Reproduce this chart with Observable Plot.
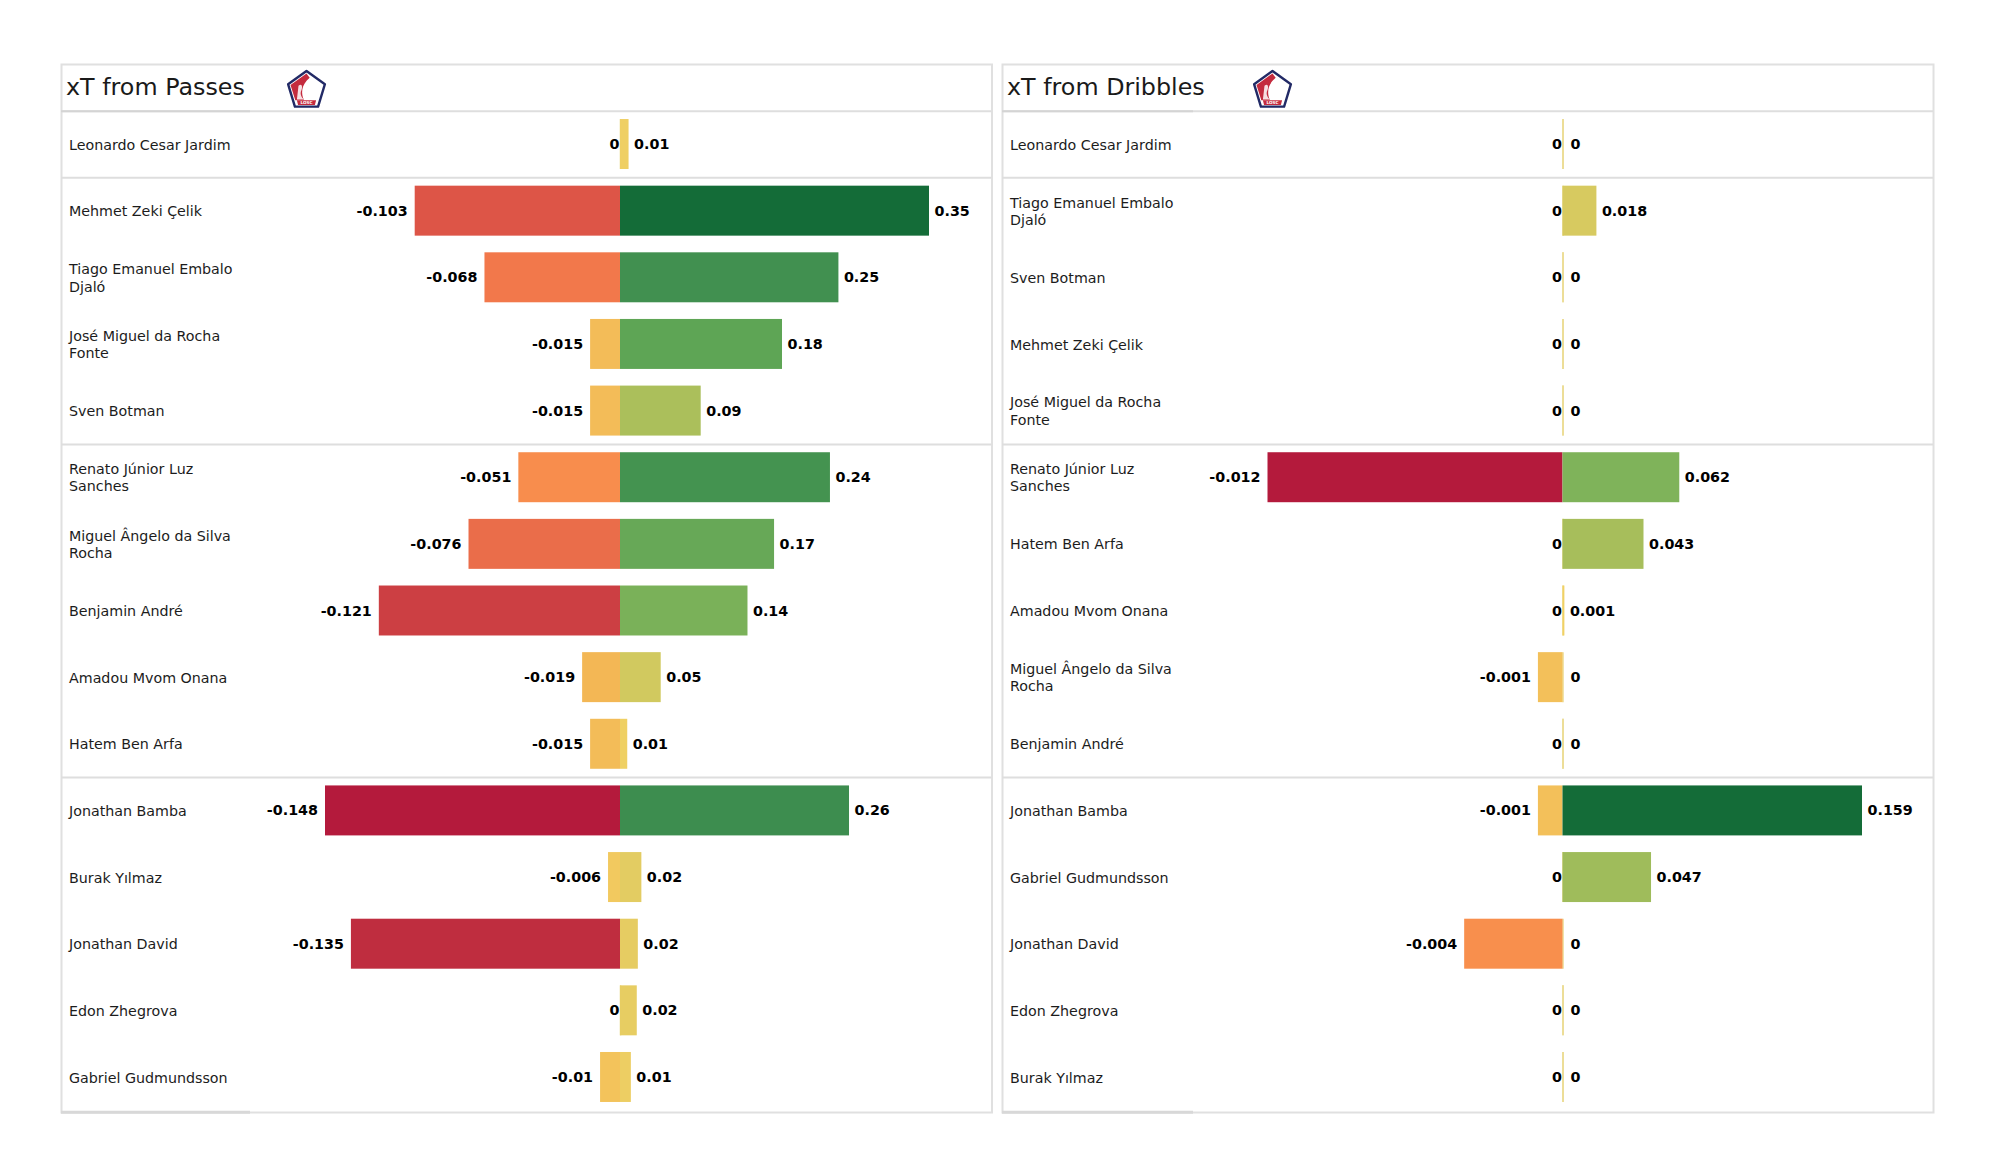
<!DOCTYPE html>
<html>
<head>
<meta charset="utf-8">
<script src="https://cdn.jsdelivr.net/npm/d3@7"></script>
<script src="https://cdn.jsdelivr.net/npm/@observablehq/plot@0.6"></script>
<style>
html,body{margin:0;padding:0;background:#fff;width:2000px;height:1175px;overflow:hidden}
#chart{position:relative;width:2000px;height:1175px}
#chart svg{position:absolute;top:0;overflow:visible}
</style>
</head>
<body>
<div id="chart"></div>
<script>
const passNames = ["Leonardo Cesar Jardim","Mehmet Zeki Çelik","Tiago Emanuel Embalo\nDjaló","José Miguel da Rocha\nFonte","Sven Botman","Renato Júnior Luz\nSanches","Miguel Ângelo da Silva\nRocha","Benjamin André","Amadou Mvom Onana","Hatem Ben Arfa","Jonathan Bamba","Burak Yılmaz","Jonathan David","Edon Zhegrova","Gabriel Gudmundsson"];
const passNeg = [0,-0.103,-0.068,-0.015,-0.015,-0.051,-0.076,-0.121,-0.019,-0.015,-0.148,-0.006,-0.135,0,-0.01];
const passPos = [0.0097,0.35,0.2474,0.1835,0.0914,0.2378,0.1745,0.1444,0.0461,0.0082,0.2594,0.0242,0.0202,0.019,0.0123];
const passGroupStarts = ["Leonardo Cesar Jardim","Mehmet Zeki Çelik","Renato Júnior Luz\nSanches","Jonathan Bamba"];

const dribNames = ["Leonardo Cesar Jardim","Tiago Emanuel Embalo\nDjaló","Sven Botman","Mehmet Zeki Çelik","José Miguel da Rocha\nFonte","Renato Júnior Luz\nSanches","Hatem Ben Arfa","Amadou Mvom Onana","Miguel Ângelo da Silva\nRocha","Benjamin André","Jonathan Bamba","Gabriel Gudmundsson","Jonathan David","Edon Zhegrova","Burak Yılmaz"];
const dribNeg = [0,0,0,0,0,-0.012,0,0,-0.001,0,-0.001,0,-0.004,0,0];
const dribPos = [0,0.018,0,0,0,0.062,0.043,0.001,0,0,0.159,0.047,0,0,0];
const dribGroupStarts = ["Leonardo Cesar Jardim","Tiago Emanuel Embalo\nDjaló","Renato Júnior Luz\nSanches","Jonathan Bamba"];

const negStops = [-1,-0.91,-0.82,-0.7,-0.51,-0.46,-0.34,-0.128,-0.1,-0.07,-0.04];
const negColors = ["#b41a3c","#bf2d3f","#cc3f43","#dd5447","#ea6d4a","#f2784b","#f88e4d","#f3b755","#f3bc58","#f3c35b","#f2c95f"];
const midColor = "#f1d264";
const posStops = [0.03,0.06,0.13,0.26,0.39,0.5,0.52,0.68,0.74,1];
const posColors = ["#efcf63","#e5cc62","#d2c95f","#abbf5b","#7fb35a","#67a857","#5fa555","#449350","#3d8d4f","#146c38"];

const logoSvg = `<svg xmlns="http://www.w3.org/2000/svg" viewBox="0 0 100 100">
<path d="M50 5 L96 38 L79 94 L21 94 L4 38 Z" fill="#fff" stroke="#222a66" stroke-width="6" stroke-linejoin="round"/>
<path d="M50 11 L10 40 L22 78 L44 78 C36 62 36 40 58 22 Z" fill="#c42b3e"/>
<path d="M62 20 L90 40 L84 50 L70 50 L66 66 C64 58 66 46 70 40 C66 34 64 28 62 20 Z" fill="#fff"/>
<path d="M30 42 C38 34 42 44 36 56 C34 64 38 72 44 76 L26 76 Z" fill="#fff" opacity="0.85"/>
<path d="M26 78 H74 L71 90 H29 Z" fill="#c42b3e"/>
<text x="50" y="88" font-size="10.500" font-weight="700" text-anchor="middle" fill="#fff" font-family="DejaVu Sans">LOSC</text>
</svg>`;
const logoSrc = "data:image/svg+xml;utf8," + encodeURIComponent(logoSvg);

function panel({title, names, neg, pos, groupStarts, xDomain, xRange, mLeft, mRight, width, logoDx, underlineStart, underlineEnd, posDigits}) {
  const rows = names.flatMap((name, i) => [
    {name, side: "neg", value: neg[i]},
    {name, side: "pos", value: pos[i]}
  ]);
  const maxNeg = -d3.min(neg), maxPos = d3.max(pos);
  const fmt = d => String(+d.value.toFixed(d.side === "neg" ? 3 : posDigits));
  const toData = d3.scaleLinear().domain(xRange).range(xDomain);
  const firstName = names[0], lastName = names[names.length - 1];
  const valueText = (filter, textAnchor, dx) => Plot.text(rows.filter(filter), {
    x: "value", y: "name", text: fmt, fontWeight: 700, fontSize: 14.3, fill: "#000", textAnchor, dx
  });
  return Plot.plot({
    width, height: 1175,
    marginLeft: mLeft, marginRight: mRight, marginTop: 64, marginBottom: 63,
    style: {fontFamily: "'DejaVu Sans', sans-serif", background: "transparent", overflow: "visible"},
    x: {type: "linear", axis: null, domain: xDomain, range: xRange},
    y: {axis: null, type: "band", domain: names, range: [110.7, 1110.3], paddingInner: 0.25, paddingOuter: 0.125, round: false},
    color: {
      type: "linear", interpolate: "rgb",
      domain: [...negStops.map(t => t * maxNeg), 0, ...posStops.map(t => t * maxPos)],
      range: [...negColors, midColor, ...posColors]
    },
    marks: [
      Plot.frame({stroke: "#e0e0e0", strokeWidth: 2}),
      Plot.ruleY(groupStarts, {y: d => d, dy: -33.3, stroke: "#dedede", strokeWidth: 2}),
      Plot.ruleY([firstName], {y: d => d, dy: -33.3, x1: toData(underlineStart), x2: toData(underlineEnd), stroke: "#d4d4d4", strokeWidth: 2}),
      Plot.ruleY([lastName], {y: d => d, dy: 34.8, x1: toData(underlineStart), x2: toData(underlineEnd), stroke: "#d8d8d8", strokeWidth: 3}),
      Plot.tickX(rows.filter(d => d.value === 0), {x: "value", y: "name", stroke: "#ecdc94", strokeWidth: 1.6}),
      Plot.barX(rows.filter(d => d.value !== 0), {x1: () => 0, x2: "value", y: "name", fill: "value"}),
      Plot.text(names, {y: d => d, frameAnchor: "left", dx: 7.5, dy: -0.5, textAnchor: "start", text: d => d, fontSize: 14.25, lineHeight: 1.22, fill: "#1c1c1c"}),
      valueText(d => d.side === "neg" && d.value !== 0, "end", -7.5),
      valueText(d => d.side === "neg" && d.value === 0, "end", -1),
      valueText(d => d.side === "pos" && d.value !== 0, "start", 5),
      valueText(d => d.side === "pos" && d.value === 0, "start", 7.5),
      Plot.text([title], {frameAnchor: "top-left", dx: 4.5, dy: 22.5, lineAnchor: "middle", textAnchor: "start", text: d => d, fontSize: 23.8, fill: "#1a1a1a"}),
      Plot.image([logoSrc], {src: d => d, frameAnchor: "top-left", dx: logoDx, dy: 24.5, width: 40, height: 40})
    ]
  });
}

const chart = document.getElementById("chart");
const leftPanel = panel({
  title: "xT from Passes", names: passNames, neg: passNeg, pos: passPos, groupStarts: passGroupStarts,
  xDomain: [-0.148, 0, 0.35], xRange: [325, 620, 929], posDigits: 2,
  width: 996, mLeft: 61, mRight: 4.5, logoDx: 245, underlineStart: 61, underlineEnd: 250
});
leftPanel.style.left = "0px";
const rightPanel = panel({
  title: "xT from Dribbles", names: dribNames, neg: dribNeg, pos: dribPos, groupStarts: dribGroupStarts,
  xDomain: [-0.012, 0, 0.159], xRange: [271.5, 566.5, 866], posDigits: 3,
  width: 1004, mLeft: 6, mRight: 67, logoDx: 270, underlineStart: 6, underlineEnd: 197
});
rightPanel.style.left = "996px";
chart.append(leftPanel, rightPanel);
</script>
</body>
</html>
